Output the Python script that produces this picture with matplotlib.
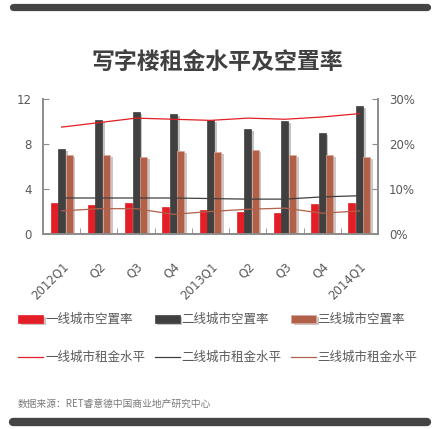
import numpy as np
import matplotlib
matplotlib.use("Agg")
import matplotlib.pyplot as plt
import matplotlib.patheffects as pe
from matplotlib.lines import Line2D
from matplotlib.ticker import FixedLocator, PercentFormatter

plt.rcParams['font.family'] = ['Noto Sans CJK SC', 'DejaVu Sans']

quarters = ['2012Q1', 'Q2', 'Q3', 'Q4', '2013Q1', 'Q2', 'Q3', 'Q4', '2014Q1']
# vacancy rate (%), right axis
vac1 = [6.8, 6.4, 6.8, 6.1, 5.3, 5.0, 4.6, 6.7, 7.0]
vac2 = [18.8, 25.3, 27.2, 26.7, 25.3, 23.3, 25.2, 22.4, 28.4]
vac3 = [17.5, 17.5, 17.1, 18.4, 18.2, 18.6, 17.5, 17.6, 17.1]
# rent level, left axis
rent1 = [9.5, 9.9, 10.3, 10.2, 10.1, 10.3, 10.2, 10.4, 10.7]
rent2 = [3.2, 3.2, 3.2, 3.2, 3.15, 3.1, 3.1, 3.3, 3.4]
rent3 = [2.05, 2.25, 2.25, 1.75, 2.0, 2.2, 2.3, 1.85, 2.05]

bar_names = ['一线城市空置率', '二线城市空置率', '三线城市空置率']
line_names = ['一线城市租金水平', '二线城市租金水平', '三线城市租金水平']
colors = ['#E41E26', '#404040', '#B1604A']
txt = '#595959'
axc = '#8c8c8c'

fig = plt.figure(figsize=(4.35, 4.29), dpi=100)
ax = fig.add_axes([43/435, 1-234/429, 335/435, 135/429])
ax2 = ax.twinx()
ax.set_zorder(ax2.get_zorder() + 1)
ax.patch.set_visible(False)

x = np.arange(len(quarters))
w = 0.19
shadow = [pe.SimplePatchShadow(offset=(2, -1.5), alpha=0.25), pe.Normal()]
bars = []
for i, (vals, c) in enumerate(zip([vac1, vac2, vac3], colors)):
    b = ax2.bar(x + (i - 1) * 0.2, vals, w, color=c,
                edgecolor='#d9a99a' if i == 2 else c, linewidth=0.5)
    for p in b:
        p.set_path_effects(shadow)
    bars.append(b)

lines = []
for vals, c in zip([rent1, rent2, rent3], colors):
    ln, = ax.plot(x, vals, color=c, lw=0.9)
    lines.append(ln)

ax.set_xlim(-0.5, len(quarters) - 0.5)
ax.set_ylim(0, 12)
ax.set_yticks([0, 4, 8, 12])
ax2.set_ylim(0, 30)
ax2.set_yticks([0, 10, 20, 30])
ax2.yaxis.set_major_formatter(PercentFormatter(decimals=0))

ax.set_xticks(x)
ax.set_xticklabels(quarters, rotation=45, ha='right', rotation_mode='anchor',
                   family='DejaVu Sans')
ax.xaxis.set_minor_locator(FixedLocator(x[:-1] + 0.5))
ax.tick_params(axis='x', which='major', length=0, pad=19, labelsize=8.5, labelcolor=txt)
ax.tick_params(axis='x', which='minor', direction='in', length=4, color=axc)
ax.tick_params(axis='y', direction='in', length=4, color=axc, labelsize=8.5,
               labelcolor=txt, pad=8)
ax2.tick_params(axis='y', direction='in', length=4, color=axc, labelsize=8.5,
                labelcolor=txt, pad=8)
for a in (ax, ax2):
    for t in a.get_yticklabels():
        t.set_family('DejaVu Sans')
    a.spines['top'].set_visible(False)
    for s in ('left', 'right', 'bottom'):
        a.spines[s].set_color(axc)
        a.spines[s].set_linewidth(1.2)

fig.text(0.5, 1 - 62/429, '写字楼租金水平及空置率', ha='center', va='center',
         fontsize=16.5, fontweight='bold', color='#404040')

handles, labels = [], []
for b, ln, bn, lnn in zip(bars, lines, bar_names, line_names):
    handles += [b, ln]
    labels += [bn, lnn]
leg = fig.legend(handles, labels, ncol=3, loc='upper left',
                 bbox_to_anchor=(12/435, 1 - 307/429), frameon=False,
                 fontsize=9, handlelength=2.0, handletextpad=0.15,
                 columnspacing=0.75, labelspacing=2.0, borderpad=0)
for t in leg.get_texts():
    t.set_color(txt)

fig.text(18/435, 1 - 404/429, '数据来源：RET睿意德中国商业地产研究中心',
         ha='left', va='center', fontsize=7, color='#7a7a7a', style='italic')

for yy, lw in ((1 - 6.5/429, 5.2), (1 - 421.5/429, 6.0)):
    fig.add_artist(Line2D([13/435, 427/435], [yy, yy], color='#444444', lw=lw,
                          solid_capstyle='round', transform=fig.transFigure))

fig.savefig('out.png', dpi=100)
